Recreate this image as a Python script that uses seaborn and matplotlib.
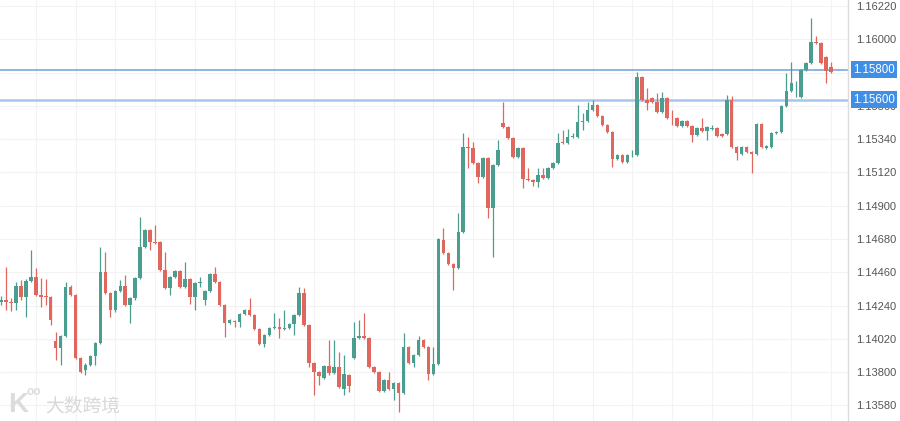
import numpy as np
import pandas as pd
import seaborn as sns
import matplotlib.pyplot as plt
import matplotlib.transforms as mtransforms

# candle values (EUR/USD style quotes)
opens = [1.14264, 1.14277, 1.14264, 1.14257, 1.14370, 1.14297, 1.14403, 1.14429, 1.14310, 1.14303,
         1.14297, 1.14006, 1.13960, 1.14039, 1.14363, 1.14310, 1.13894, 1.13814, 1.13847, 1.13907,
         1.13993, 1.14462, 1.14323, 1.14211, 1.14336, 1.14370, 1.14244, 1.14290, 1.14422, 1.14627,
         1.14740, 1.14660, 1.14660, 1.14475, 1.14356, 1.14429, 1.14469, 1.14363, 1.14416, 1.14297,
         1.14389, 1.14277, 1.14336, 1.14449, 1.14396, 1.14244, 1.14125, 1.14138, 1.14132, 1.14184,
         1.14211, 1.14178, 1.14085, 1.13986, 1.14046, 1.14092, 1.14099, 1.14085, 1.14092, 1.14118,
         1.14178, 1.14323, 1.14112, 1.13861, 1.13801, 1.13761, 1.13841, 1.13794, 1.13834, 1.13689,
         1.13781, 1.13894, 1.14026, 1.14039, 1.14026, 1.13834, 1.13801, 1.13675, 1.13748, 1.13689,
         1.13728, 1.13662, 1.13966, 1.13861, 1.13913, 1.14013, 1.13966, 1.13788, 1.13854, 1.14674,
         1.14588, 1.14515, 1.14489, 1.14726, 1.15288, 1.15282, 1.15183, 1.15090, 1.15216, 1.14885,
         1.15169, 1.15447, 1.15421, 1.15348, 1.15222, 1.15282, 1.15077, 1.15070, 1.15057, 1.15103,
         1.15083, 1.15150, 1.15183, 1.15321, 1.15315, 1.15354, 1.15354, 1.15454, 1.15460, 1.15533,
         1.15566, 1.15493, 1.15434, 1.15387, 1.15209, 1.15235, 1.15189, 1.15235, 1.15235, 1.15751,
         1.15599, 1.15612, 1.15586, 1.15520, 1.15612, 1.15480, 1.15480, 1.15427, 1.15460, 1.15427,
         1.15368, 1.15414, 1.15394, 1.15407, 1.15414, 1.15374, 1.15374, 1.15599, 1.15288, 1.15242,
         1.15288, 1.15255, 1.15242, 1.15440, 1.15282, 1.15288, 1.15381, 1.15387, 1.15559, 1.15658,
         1.15711, 1.15619, 1.15797, 1.15844, 1.15982, 1.15976, 1.15883, 1.15817]
highs = [1.14303, 1.14495, 1.14290, 1.14396, 1.14409, 1.14416, 1.14607, 1.14489, 1.14422, 1.14416,
         1.14303, 1.14065, 1.14046, 1.14396, 1.14376, 1.14317, 1.13900, 1.13861, 1.13913, 1.13999,
         1.14627, 1.14594, 1.14330, 1.14343, 1.14409, 1.14442, 1.14297, 1.14429, 1.14826, 1.14746,
         1.14746, 1.14773, 1.14667, 1.14594, 1.14436, 1.14475, 1.14475, 1.14528, 1.14422, 1.14396,
         1.14429, 1.14343, 1.14455, 1.14495, 1.14403, 1.14251, 1.14151, 1.14145, 1.14191, 1.14218,
         1.14290, 1.14184, 1.14092, 1.14052, 1.14099, 1.14191, 1.14158, 1.14211, 1.14125, 1.14184,
         1.14363, 1.14356, 1.14118, 1.13867, 1.13808, 1.13847, 1.14013, 1.14013, 1.13933, 1.13913,
         1.13788, 1.14132, 1.14145, 1.14191, 1.14032, 1.13841, 1.13808, 1.13755, 1.13801, 1.13735,
         1.13735, 1.14059, 1.13973, 1.13920, 1.14039, 1.14019, 1.13973, 1.13966, 1.14687, 1.14753,
         1.14594, 1.14522, 1.14852, 1.15381, 1.15354, 1.15321, 1.15189, 1.15222, 1.15222, 1.15176,
         1.15335, 1.15586, 1.15427, 1.15354, 1.15288, 1.15288, 1.15150, 1.15077, 1.15150, 1.15150,
         1.15156, 1.15189, 1.15381, 1.15401, 1.15407, 1.15381, 1.15566, 1.15513, 1.15586, 1.15599,
         1.15573, 1.15500, 1.15440, 1.15394, 1.15242, 1.15242, 1.15242, 1.15268, 1.15784, 1.15758,
         1.15678, 1.15619, 1.15645, 1.15652, 1.15619, 1.15533, 1.15487, 1.15467, 1.15467, 1.15434,
         1.15421, 1.15480, 1.15427, 1.15434, 1.15421, 1.15381, 1.15632, 1.15625, 1.15295, 1.15295,
         1.15295, 1.15262, 1.15447, 1.15447, 1.15302, 1.15387, 1.15394, 1.15566, 1.15777, 1.15850,
         1.15725, 1.15804, 1.15850, 1.16141, 1.16022, 1.15982, 1.15890, 1.15850]
lows = [1.14244, 1.14211, 1.14204, 1.14211, 1.14277, 1.14165, 1.14396, 1.14303, 1.14231, 1.14244,
        1.14112, 1.13880, 1.13847, 1.14032, 1.14303, 1.13887, 1.13794, 1.13781, 1.13841, 1.13847,
        1.13986, 1.14317, 1.14165, 1.14198, 1.14330, 1.14237, 1.14125, 1.14277, 1.14416, 1.14621,
        1.14607, 1.14647, 1.14469, 1.14350, 1.14310, 1.14422, 1.14356, 1.14356, 1.14251, 1.14211,
        1.14363, 1.14244, 1.14330, 1.14389, 1.14237, 1.14032, 1.14118, 1.14099, 1.14099, 1.14178,
        1.14171, 1.14079, 1.13980, 1.13966, 1.14039, 1.14085, 1.14026, 1.14079, 1.14085, 1.14046,
        1.14171, 1.14105, 1.13834, 1.13649, 1.13715, 1.13755, 1.13781, 1.13788, 1.13695, 1.13649,
        1.13669, 1.13887, 1.14019, 1.14019, 1.13828, 1.13794, 1.13669, 1.13669, 1.13682, 1.13616,
        1.13537, 1.13656, 1.13854, 1.13834, 1.13907, 1.13960, 1.13748, 1.13781, 1.13847, 1.14581,
        1.14508, 1.14343, 1.14482, 1.14720, 1.15150, 1.15176, 1.15050, 1.15083, 1.14819, 1.14561,
        1.15163, 1.15414, 1.15341, 1.15216, 1.15216, 1.15017, 1.15064, 1.15031, 1.15024, 1.15077,
        1.15077, 1.15143, 1.15176, 1.15308, 1.15308, 1.15348, 1.15348, 1.15401, 1.15454, 1.15526,
        1.15487, 1.15427, 1.15381, 1.15156, 1.15202, 1.15183, 1.15183, 1.15222, 1.15229, 1.15592,
        1.15533, 1.15579, 1.15513, 1.15513, 1.15473, 1.15434, 1.15421, 1.15421, 1.15421, 1.15321,
        1.15361, 1.15387, 1.15335, 1.15401, 1.15354, 1.15354, 1.15368, 1.15282, 1.15202, 1.15235,
        1.15249, 1.15116, 1.15235, 1.15282, 1.15275, 1.15282, 1.15374, 1.15381, 1.15553, 1.15652,
        1.15619, 1.15612, 1.15791, 1.15837, 1.15969, 1.15837, 1.15711, 1.15777]
closes = [1.14277, 1.14264, 1.14257, 1.14370, 1.14297, 1.14403, 1.14429, 1.14310, 1.14297, 1.14297,
          1.14145, 1.13960, 1.14039, 1.14363, 1.14310, 1.13894, 1.13801, 1.13847, 1.13907, 1.13993,
          1.14462, 1.14323, 1.14211, 1.14336, 1.14370, 1.14244, 1.14290, 1.14422, 1.14627, 1.14740,
          1.14660, 1.14655, 1.14475, 1.14356, 1.14429, 1.14469, 1.14363, 1.14416, 1.14297, 1.14389,
          1.14396, 1.14336, 1.14449, 1.14396, 1.14244, 1.14125, 1.14145, 1.14132, 1.14184, 1.14211,
          1.14178, 1.14085, 1.13986, 1.14046, 1.14092, 1.14099, 1.14085, 1.14092, 1.14118, 1.14178,
          1.14323, 1.14112, 1.13861, 1.13801, 1.13775, 1.13841, 1.13794, 1.13834, 1.13702, 1.13788,
          1.13709, 1.14026, 1.14039, 1.14026, 1.13834, 1.13801, 1.13675, 1.13748, 1.13689, 1.13728,
          1.13662, 1.13966, 1.13861, 1.13913, 1.14013, 1.13966, 1.13788, 1.13854, 1.14680, 1.14588,
          1.14515, 1.14489, 1.14726, 1.15288, 1.15282, 1.15183, 1.15090, 1.15216, 1.14885, 1.15169,
          1.15268, 1.15421, 1.15348, 1.15222, 1.15282, 1.15077, 1.15070, 1.15057, 1.15103, 1.15083,
          1.15150, 1.15183, 1.15315, 1.15315, 1.15354, 1.15361, 1.15454, 1.15460, 1.15533, 1.15566,
          1.15493, 1.15434, 1.15387, 1.15209, 1.15235, 1.15189, 1.15235, 1.15238, 1.15751, 1.15599,
          1.15579, 1.15586, 1.15520, 1.15612, 1.15480, 1.15477, 1.15427, 1.15460, 1.15427, 1.15368,
          1.15414, 1.15394, 1.15421, 1.15414, 1.15361, 1.15361, 1.15599, 1.15288, 1.15249, 1.15288,
          1.15255, 1.15242, 1.15440, 1.15288, 1.15295, 1.15381, 1.15387, 1.15559, 1.15658, 1.15711,
          1.15714, 1.15797, 1.15844, 1.15982, 1.15976, 1.15844, 1.15791, 1.15784]

price_ticks = [1.13580, 1.13800, 1.14020, 1.14240, 1.14460, 1.14680, 1.14900,
               1.15120, 1.15340, 1.15560, 1.15780, 1.16000, 1.16220]
levels = [1.15800, 1.15600]
level_labels = ["1.15800", "1.15600"]

up_color = "#4a9d8f"
down_color = "#e0675d"

df = pd.DataFrame({"open": opens, "high": highs, "low": lows, "close": closes})
df["idx"] = np.arange(len(df))
df["up"] = df["close"] >= df["open"]
df["color"] = np.where(df["up"], up_color, down_color)
df["bottom"] = df[["open", "close"]].min(axis=1)
df["height"] = (df["close"] - df["open"]).abs().clip(lower=0.000025)

sns.set_theme(style="white")
plt.rcParams['font.family'] = ['Liberation Sans', 'DejaVu Sans']

fig = plt.figure(figsize=(9, 4.21), dpi=100)
ax = fig.add_axes([0, 0, 848 / 900, 1])

# wicks then bodies
ax.vlines(df["idx"], df["low"], df["high"], colors=df["color"], linewidth=0.9, zorder=3)
ax.bar(df["idx"], df["height"], bottom=df["bottom"], width=0.72,
       color=df["color"], edgecolor="none", zorder=4)

ax.set_xlim(-0.2, 170.4)
ax.set_ylim(1.13477, 1.16260)

# faint grid
ax.set_xticks(np.arange(7, 168, 8))
ax.set_xticklabels([])
ax.set_yticks(price_ticks)
ax.set_yticklabels(["%.5f" % t for t in price_ticks])
ax.grid(True, color="#f3f3f3", linewidth=0.8)
ax.yaxis.tick_right()
ax.tick_params(axis="both", length=0)
ax.tick_params(axis="y", pad=6, labelsize=8, labelcolor="#555555")

for s in ["top", "left", "bottom"]:
    ax.spines[s].set_visible(False)
ax.spines["right"].set_color("#dcdcdc")
ax.spines["right"].set_linewidth(1)

# price level lines with tags
line_styles = [("#6fa0d8", 1.1), ("#a8c5ec", 1.8)]
trans = mtransforms.blended_transform_factory(ax.transAxes, ax.transData)
for lvl, lab, (c, lw) in zip(levels, level_labels, line_styles):
    ax.axhline(lvl, color=c, linewidth=lw, zorder=2)
    ax.text(1.006, lvl, lab, transform=trans, ha="left", va="center", fontsize=8.3,
            color="white", clip_on=False, zorder=20,
            bbox=dict(boxstyle="square,pad=0.22", fc="#3f8fe6", ec="none"))

# watermark
ax.text(0.009, 0.038, "K", transform=ax.transAxes, fontsize=20, color="#dcdcdc",
        ha="left", va="center", fontweight="bold", zorder=1)
ax.text(0.031, 0.068, "oo", transform=ax.transAxes, fontsize=8.5, color="#dcdcdc",
        ha="left", va="center", fontweight="bold", zorder=1)
ax.text(0.053, 0.036, "大数跨境", transform=ax.transAxes, fontsize=13.5, color="#d8d8d8",
        ha="left", va="center", family=['Noto Sans CJK SC', 'DejaVu Sans'], zorder=1)

plt.savefig("out.png", dpi=100)
